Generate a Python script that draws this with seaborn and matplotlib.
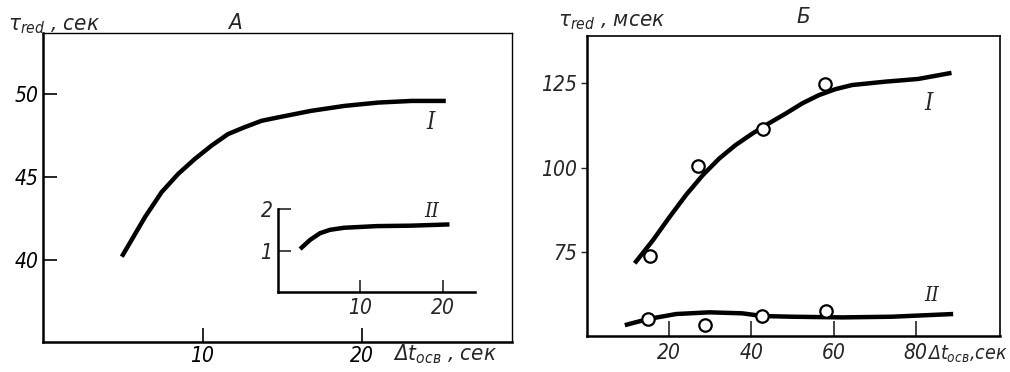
import numpy as np
import pandas as pd
import matplotlib
matplotlib.use("Agg")
import matplotlib.pyplot as plt
import seaborn as sns

sns.set_theme(style="white")
plt.rcParams['font.family'] = ['DejaVu Sans']
plt.rcParams['font.stretch'] = 'condensed'
plt.rcParams['font.style'] = 'italic'
plt.rcParams['mathtext.fontset'] = 'dejavusans'

# Panel A, curve I (main)
a1_x = [4.94, 6.4, 7.44, 8.48, 9.52, 10.56, 11.6, 12.6, 13.7, 14.7, 16.8, 18.9, 21.0, 23.1, 25.25]
a1_y = [40.2, 42.6, 44.1, 45.2, 46.1, 46.9, 47.6, 48.0, 48.4, 48.6, 49.0, 49.3, 49.5, 49.6, 49.6]
# Panel A, curve II (inset)
a2_x = [2.68, 3.9, 5.1, 6.3, 8.0, 12.0, 16.1, 20.8]
a2_y = [1.04, 1.26, 1.42, 1.50, 1.55, 1.59, 1.60, 1.63]
# Panel B, curve I
b1_x = [11.6, 16.1, 20.1, 24.1, 28.2, 32.2, 36.2, 40.3, 44.3, 48.4, 52.4, 56.4, 60.5, 64.5, 72.6, 80.6, 88.7]
b1_y = [71.7, 78.6, 85.4, 91.9, 97.8, 102.7, 106.7, 110.1, 113.1, 116.0, 119.0, 121.4, 123.2, 124.4, 125.4, 126.2, 128.0]
b1_px = [15.25, 26.9, 42.9, 57.9]
b1_py = [73.8, 100.4, 111.4, 124.7]
# Panel B, curve II
b2_x = [9.2, 14.8, 21.7, 29.8, 37.8, 42.7, 49.9, 62.1, 74.2, 89.1]
b2_y = [53.4, 55.2, 56.7, 57.2, 56.9, 56.1, 55.9, 55.7, 55.9, 56.7]
b2_px = [14.8, 28.6, 42.7, 58.1]
b2_py = [55.2, 53.4, 56.1, 57.5]

a_yticks = [40, 45, 50]
a_xticks = [10, 20]
in_yticks = [1, 2]
in_xticks = [10, 20]
b_yticks = [75, 100, 125]
b_xticks = [20, 40, 60, 80]

W, H = 1010, 372
fig = plt.figure(figsize=(W/100, H/100), dpi=100)

def box(x0, y0, x1, y1):
    return [x0/W, 1 - y1/H, (x1-x0)/W, (y1-y0)/H]

LW = 3.2
FS = 15
tkw = dict(fontsize=FS, fontstyle='italic')
lkw = dict(solid_capstyle='butt', solid_joinstyle='round')
TICKON = dict(bottom=True, left=True, top=False, right=False)

# ---- Panel A main
axA = fig.add_axes(box(43, 33, 512, 342))
sns.lineplot(x=a1_x, y=a1_y, ax=axA, color='black', lw=LW, sort=False, **lkw)
axA.set_xlim(0, 29.4)
axA.set_ylim(35.05, 53.7)
axA.set_xticks(a_xticks)
axA.set_yticks(a_yticks)
axA.set_xticklabels([str(v) for v in a_xticks], **tkw)
axA.set_yticklabels([str(v) for v in a_yticks], **tkw)
axA.tick_params(axis='both', direction='in', length=10, width=1.2, colors='black', **TICKON)
axA.tick_params(axis='y', pad=3)
axA.tick_params(axis='x', pad=3)
for s in axA.spines.values():
    s.set_linewidth(1.0); s.set_color('black')
axA.spines['left'].set_linewidth(1.8)
axA.spines['bottom'].set_linewidth(1.8)
axA.text(24.3, 48.3, 'I', ha='center', va='center', fontsize=FS+2, fontstyle='italic', family='DejaVu Serif')

# ---- Inset
axI = fig.add_axes(box(278, 209, 475, 292.4))
sns.lineplot(x=a2_x, y=a2_y, ax=axI, color='black', lw=LW, sort=False, **lkw)
axI.set_xlim(0, 23.9)
axI.set_ylim(0, 2)
axI.set_xticks(in_xticks)
axI.set_yticks(in_yticks)
axI.set_xticklabels([str(v) for v in in_xticks], **tkw)
axI.set_yticklabels([str(v) for v in in_yticks], **tkw)
axI.tick_params(axis='x', direction='in', length=9, width=1.2, pad=4, **TICKON)
axI.tick_params(axis='y', direction='in', length=9, width=1.2, pad=4, **TICKON)
axI.spines['top'].set_visible(False)
axI.spines['right'].set_visible(False)
for s in ['left', 'bottom']:
    axI.spines[s].set_linewidth(1.8); axI.spines[s].set_color('black')
axI.patch.set_alpha(0)
axI.text(18.7, 1.94, 'II', ha='center', va='center', fontsize=FS, fontstyle='italic', family='DejaVu Serif')

# ---- Panel B
axB = fig.add_axes(box(587, 36, 1000, 336))
sns.lineplot(x=b1_x, y=b1_y, ax=axB, color='black', lw=LW, sort=False, **lkw)
sns.lineplot(x=b2_x, y=b2_y, ax=axB, color='black', lw=LW, sort=False, **lkw)
sns.scatterplot(x=b1_px, y=b1_py, ax=axB, s=80, facecolor='white', edgecolor='black', linewidth=1.6, zorder=5)
sns.scatterplot(x=b2_px, y=b2_py, ax=axB, s=80, facecolor='white', edgecolor='black', linewidth=1.6, zorder=5)
axB.set_xlim(0, 100.5)
axB.set_ylim(50.2, 138.9)
axB.set_xticks(b_xticks)
axB.set_yticks(b_yticks)
axB.set_xticklabels([str(v) for v in b_xticks], **tkw)
axB.set_yticklabels([str(v) for v in b_yticks], **tkw)
axB.tick_params(axis='x', direction='in', length=11, width=1.2, pad=5, **TICKON)
axB.tick_params(axis='y', direction='out', length=4, width=1.0, pad=3, **TICKON)
for s in axB.spines.values():
    s.set_linewidth(1.2); s.set_color('black')
axB.spines['left'].set_linewidth(1.8)
axB.spines['bottom'].set_linewidth(1.8)
axB.text(83.0, 119.0, 'I', ha='center', va='center', fontsize=FS+2, fontstyle='italic', family='DejaVu Serif')
axB.text(83.8, 62.3, 'II', ha='center', va='center', fontsize=FS, fontstyle='italic', family='DejaVu Serif')

# ---- Figure texts
fig.text(235/W, 1 - 23/H, 'А', ha='center', va='center', fontsize=FS+1, fontstyle='italic')
fig.text(803/W, 1 - 17/H, 'Б', ha='center', va='center', fontsize=FS+1, fontstyle='italic')
fig.text(8/W, 1 - 26/H, r'$\tau_{red}$ , сек', ha='left', va='center', fontsize=FS+1, fontstyle='italic')
fig.text(558/W, 1 - 22/H, r'$\tau_{red}$ , мсек', ha='left', va='center', fontsize=FS+1, fontstyle='italic')
fig.text(393/W, 1 - 354/H, r'$\Delta t_{осв}$ , сек', ha='left', va='center', fontsize=FS+1, fontstyle='italic')
fig.text(1008/W, 1 - 354/H, r'$\Delta t_{осв}$,сек', ha='right', va='center', fontsize=FS-1, fontstyle='italic')

fig.savefig('out.png', dpi=100)
